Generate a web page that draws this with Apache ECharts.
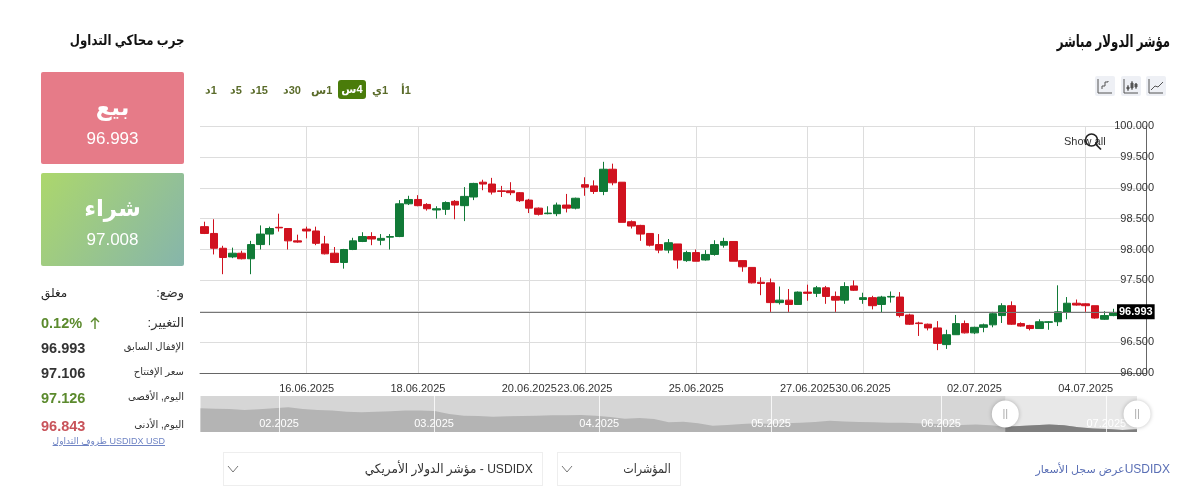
<!DOCTYPE html>
<html lang="ar">
<head>
<meta charset="utf-8">
<title>USDIDX</title>
<script src="https://cdn.jsdelivr.net/npm/echarts@6/dist/echarts.min.js"></script>
<style>
    html, body { margin: 0; padding: 0; background: #fff; }
    body { width: 1200px; height: 500px; overflow: hidden; position: relative; font-family: "Liberation Sans", "DejaVu Sans", sans-serif; color: #222; }
    #chart { position: absolute; left: 0; top: 0; width: 1200px; height: 500px; }
    .abs { position: absolute; white-space: nowrap; }
    .rtl { direction: rtl; }
    .card { position: absolute; left: 41px; width: 143px; border-radius: 2px; color: #fff; text-align: center; }
    .card .big { position: absolute; left: 0; right: 0; top: 19px; font-size: 23px; font-weight: bold; line-height: 32px; }
    .card .price { position: absolute; left: 0; right: 0; top: 57px; font-size: 17px; line-height: 20px; }
    .label { right: 1016px; font-size: 10px; line-height: 14px; direction: rtl; color: #333; }
    .val { left: 41px; font-size: 14.5px; font-weight: bold; line-height: 18px; color: #333; }
    .tf { top: 81px; font-size: 11px; font-weight: bold; line-height: 18px; color: #5a6b2a; direction: rtl; }
    .iconbtn { position: absolute; top: 76px; width: 20px; height: 20px; background: #eef0f5; border-radius: 2px; }
    .dropdown { position: absolute; top: 452px; height: 32px; border: 1px solid #eeeeee; font-size: 13px; line-height: 32px; color: #333; }
    .dropdown span { position: absolute; right: 9px; direction: rtl; white-space: nowrap; transform-origin: right center; }
    .dropdown svg { position: absolute; left: 3px; top: 12px; }
</style>
</head>
<body>
<div id="chart"></div>

<div class="abs rtl" style="right:1016px;top:31px;font-size:14px;font-weight:bold;line-height:18px;color:#111;transform:scaleX(0.84);transform-origin:right center;">جرب محاكي التداول</div>
<div class="abs rtl" style="right:30px;top:31px;font-size:17px;font-weight:bold;line-height:22px;color:#111;transform:scaleX(0.69);transform-origin:right center;">مؤشر الدولار مباشر</div>

<div class="card" style="top:72px;height:92px;background:#e67b88;">
    <div class="big">بيع</div><div class="price">96.993</div>
</div>
<div class="card" style="top:173px;height:93px;background:linear-gradient(125deg,#acd76c,#86b5ab);">
    <div class="big">شراء</div><div class="price">97.008</div>
</div>

<div class="abs label" style="top:286px;font-size:13px;">وضع:</div>
<div class="abs" style="left:41px;top:286px;font-size:12px;line-height:14px;direction:rtl;">مغلق</div>
<div class="abs label" style="top:316px;font-size:13px;">التغيير:</div>
<div class="abs val" style="top:314px;color:#5b8a2d;">0.12%</div>
<svg class="abs" style="left:89px;top:316px;" width="12" height="14" viewBox="0 0 12 14"><path d="M6 13V2M2 6l4-4 4 4" fill="none" stroke="#5b8a2d" stroke-width="1.4"/></svg>
<div class="abs label" style="top:340px;">الإقفال السابق</div>
<div class="abs val" style="top:339px;">96.993</div>
<div class="abs label" style="top:365px;">سعر الإفتتاح</div>
<div class="abs val" style="top:364px;">97.106</div>
<div class="abs label" style="top:390px;">اليوم, الأقصى</div>
<div class="abs val" style="top:389px;color:#5b8a2d;">97.126</div>
<div class="abs label" style="top:418px;">اليوم, الأدنى</div>
<div class="abs val" style="top:417px;color:#c8535a;">96.843</div>
<div class="abs" style="right:1035px;top:435px;font-size:9px;line-height:12px;color:#6f84c4;text-decoration:underline;direction:rtl;">USDIDX USD ظروف التداول</div>

<div class="abs tf" style="left:205px;">1د</div>
<div class="abs tf" style="left:230px;">5د</div>
<div class="abs tf" style="left:250px;">15د</div>
<div class="abs tf" style="left:283px;">30د</div>
<div class="abs tf" style="left:311px;">1س</div>
<div class="abs tf" style="left:338px;top:80px;width:28px;height:19px;background:#4a7c0a;border-radius:3px;color:#fff;text-align:center;line-height:19px;">4س</div>
<div class="abs tf" style="left:372px;">1ي</div>
<div class="abs tf" style="left:401px;">1أ</div>

<div class="iconbtn" style="left:1095px;"><svg width="20" height="20" viewBox="0 0 20 20" fill="none" stroke="#555" stroke-width="1"><path d="M3 3v14h14"/><path d="M7 13v-3h3V6h3v-1"/></svg></div>
<div class="iconbtn" style="left:1121px;"><svg width="20" height="20" viewBox="0 0 20 20" fill="none" stroke="#555" stroke-width="1"><path d="M3 3v14h14"/><path d="M7 9v6M11 5v9M15 7v6"/><path d="M6 11h2v2H6zM10 7h2v5h-2zM14 8h2v3h-2z" fill="#555"/></svg></div>
<div class="iconbtn" style="left:1146px;"><svg width="20" height="20" viewBox="0 0 20 20" fill="none" stroke="#555" stroke-width="1"><path d="M3 3v14h14"/><path d="M5 14l4-4 3 1 5-5"/></svg></div>

<div class="abs" style="left:1064px;top:135px;font-size:11px;line-height:13px;color:#333;">Show all</div>
<svg class="abs" style="left:1083px;top:131px;" width="20" height="20" viewBox="0 0 20 20" fill="none" stroke="#222" stroke-width="1.7"><circle cx="8.5" cy="9" r="6"/><path d="M13 13.5l5 5"/></svg>

<div class="dropdown" style="left:223px;width:318px;"><svg width="12" height="8" viewBox="0 0 12 8"><path d="M1 1l5 6 5-6" fill="none" stroke="#777"/></svg><span style="transform:scaleX(0.93);">USDIDX - مؤشر الدولار الأمريكي</span></div>
<div class="dropdown" style="left:557px;width:122px;"><svg width="12" height="8" viewBox="0 0 12 8"><path d="M1 1l5 6 5-6" fill="none" stroke="#777"/></svg><span style="transform:scaleX(0.85);">المؤشرات</span></div>
<div class="abs" style="right:30px;top:462px;font-size:11px;line-height:14px;color:#5a6fb5;direction:rtl;"><span style="font-size:12px;">USDIDX</span>عرض سجل الأسعار</div>

<script>
    const opens = [98.37,98.26,98.02,97.88,97.94,97.85,98.08,98.25,98.36,98.34,98.14,98.33,98.30,98.09,97.94,97.79,98.00,98.13,98.21,98.15,
        98.20,98.21,98.74,98.81,98.73,98.64,98.65,98.78,98.71,98.85,99.09,99.06,98.95,98.95,98.92,98.80,98.67,98.58,98.58,98.72,
        98.67,99.05,99.03,98.94,99.30,99.09,98.45,98.39,98.26,98.08,97.99,98.09,97.82,97.95,97.83,97.92,98.07,98.13,97.82,97.71,
        97.47,97.46,97.14,97.18,97.11,97.31,97.29,97.38,97.24,97.18,97.41,97.19,97.22,97.11,97.23,97.23,96.94,96.81,96.79,96.73,
        96.46,96.62,96.80,96.65,96.74,96.78,96.93,97.09,96.80,96.77,96.72,96.82,96.83,96.98,97.13,97.12,97.09,96.87,96.93];
    const closes = [98.26,98.02,97.87,97.94,97.85,98.08,98.25,98.34,98.35,98.14,98.12,98.30,98.10,97.93,97.79,98.00,98.14,98.21,98.17,98.18,
        98.21,98.74,98.81,98.71,98.66,98.66,98.76,98.72,98.86,99.07,99.06,98.93,98.94,98.92,98.79,98.67,98.57,98.59,98.72,98.67,
        98.83,99.01,98.94,99.30,99.08,98.44,98.38,98.25,98.07,97.99,98.11,97.83,97.95,97.81,97.92,98.08,98.13,97.81,97.72,97.46,
        97.45,97.14,97.18,97.11,97.31,97.29,97.38,97.24,97.18,97.40,97.34,97.22,97.09,97.23,97.24,96.93,96.79,96.80,96.73,96.48,
        96.62,96.80,96.65,96.74,96.78,96.96,97.09,96.79,96.76,96.72,96.83,96.83,96.99,97.13,97.10,97.09,96.89,96.93,96.97];
    const lows = [98.25,97.92,97.60,97.86,97.84,97.60,98.00,98.07,98.29,98.00,98.11,98.18,98.07,97.92,97.78,97.69,97.99,98.12,98.07,98.07,
        98.00,98.20,98.72,98.70,98.63,98.50,98.56,98.49,98.46,98.80,98.96,98.89,98.85,98.88,98.77,98.59,98.55,98.57,98.54,98.60,
        98.65,98.87,98.90,98.88,99.04,98.44,98.34,98.14,98.05,97.94,97.94,97.69,97.80,97.81,97.82,97.90,98.03,97.81,97.64,97.45,
        97.26,96.99,97.11,96.99,97.11,97.17,97.23,97.12,96.99,97.12,97.33,97.12,97.03,96.98,97.14,96.90,96.78,96.60,96.69,96.37,
        96.39,96.62,96.64,96.63,96.66,96.74,96.81,96.78,96.75,96.69,96.72,96.70,96.76,96.87,97.09,96.99,96.88,96.86,96.92];
    const highs = [98.45,98.49,98.06,98.03,97.98,98.14,98.39,98.37,98.58,98.34,98.24,98.37,98.37,98.22,98.04,98.01,98.19,98.28,98.28,98.25,
        98.25,98.80,98.87,98.88,98.75,98.70,98.78,98.80,99.01,99.08,99.13,99.16,99.03,99.09,98.93,98.82,98.68,98.70,98.76,98.90,
        98.84,99.17,99.12,99.42,99.39,99.09,98.47,98.40,98.26,98.25,98.17,98.09,97.98,98.00,97.99,98.15,98.19,98.13,97.82,97.71,
        97.55,97.53,97.40,97.36,97.32,97.43,97.41,97.41,97.32,97.47,97.50,97.30,97.25,97.25,97.32,97.31,96.96,96.83,96.80,96.84,
        96.70,96.94,96.85,96.75,96.80,96.99,97.13,97.16,96.82,96.78,96.87,96.84,97.42,97.23,97.19,97.13,97.09,97.00,97.04];

    const tickIndexes = [11, 23, 35, 41, 53, 65, 71, 83, 95];
    const tickDates = ["16.06.2025", "18.06.2025", "20.06.2025", "23.06.2025", "25.06.2025", "27.06.2025", "30.06.2025", "02.07.2025", "04.07.2025"];
    const emptySlots = 3;  // free bars right of the last candle

    const currentPrice = 96.993;

    // overview strip, Feb to Jul 2025
    const overviewValues = [108.5,108.3,108.1,107.6,108.0,108.5,109.0,108.1,107.6,107.3,106.7,106.4,106.7,106.9,107.3,107.4,107.1,105.5,104.6,104.4,
        104.1,104.3,104.4,104.6,104.8,104.8,105.0,104.6,103.9,103.0,103.4,102.9,101.1,101.4,100.6,99.3,99.7,100.2,100.6,100.2,
        100.6,100.9,101.3,102.0,101.6,101.3,101.1,100.9,100.9,100.6,100.4,99.9,99.7,99.9,99.5,98.8,99.2,99.5,99.9,99.5,
        98.5,97.8,97.6,97.1,97.4];
    const monthTicks = [5.37, 15.96, 27.25, 38.99, 50.61, 61.9];
    const monthLabels = ["02.2025", "03.2025", "04.2025", "05.2025", "06.2025", "07.2025"];
    const selectedFrom = 55;

    const color_up = "#117a37";
    const color_down = "#d0121f";

    const slotCount = opens.length + emptySlots;
    let categories = [];
    for (let i = 0; i < slotCount; i++) {
        let k = tickIndexes.indexOf(i);
        categories.push(k >= 0 ? tickDates[k] : "");
    }
    const isTick = (i) => tickIndexes.indexOf(i) >= 0;

    const candles = opens.map((o, i) => [o, closes[i], lows[i], highs[i]]);
    const overview = overviewValues.map((v, i) => [i, v]);
    const overviewSelected = overview.slice(selectedFrom);
    const lastX = overviewValues.length - 1;

    const chart = echarts.init(document.getElementById("chart"));
    chart.setOption({
        animation: false,
        textStyle: { fontFamily: "Liberation Sans, DejaVu Sans, sans-serif" },
        grid: [
            { left: 200, top: 126, width: 946, height: 247 },
            { left: 200.5, top: 396, width: 936.5, height: 36, show: true, backgroundColor: "#d6d6d6", borderWidth: 0 },
        ],
        xAxis: [
            {
                type: "category",
                gridIndex: 0,
                data: categories,
                boundaryGap: true,
                axisLine: { lineStyle: { color: "#666", width: 1 } },
                axisTick: { alignWithLabel: true, interval: isTick, length: 4, lineStyle: { color: "#666" } },
                splitLine: { show: true, alignWithLabel: true, interval: isTick, lineStyle: { color: "#dddddd", width: 1 } },
                axisLabel: { interval: isTick, color: "#333", fontSize: 11, margin: 10, hideOverlap: false },
            },
            {
                type: "value",
                gridIndex: 1,
                min: 0,
                max: lastX,
                z: 4,
                axisLine: { show: false },
                axisTick: { show: false, customValues: monthTicks },
                splitLine: { show: true, lineStyle: { color: "#ffffff", width: 1, opacity: 0.8 } },
                axisLabel: {
                    inside: true,
                    customValues: monthTicks,
                    margin: 3,
                    color: "#ffffff",
                    fontSize: 11,
                    formatter: (value) => monthLabels[monthTicks.indexOf(value)],
                },
            },
        ],
        yAxis: [
            {
                type: "value",
                gridIndex: 0,
                position: "right",
                min: 96,
                max: 100,
                interval: 0.5,
                axisLine: { show: true, lineStyle: { color: "#666", width: 1 } },
                axisTick: { show: false },
                splitLine: { show: true, lineStyle: { color: "#dddddd", width: 1 } },
                axisLabel: {
                    align: "right",
                    margin: 8,
                    color: "#333",
                    fontSize: 11,
                    formatter: (value) => value.toFixed(3),
                },
            },
            {
                type: "value",
                gridIndex: 1,
                min: 96,
                max: 115,
                show: false,
            },
        ],
        series: [
            {
                name: "USDIDX",
                type: "candlestick",
                xAxisIndex: 0,
                yAxisIndex: 0,
                barWidth: 8,
                data: candles,
                itemStyle: {
                    color: color_up,
                    color0: color_down,
                    borderColor: color_up,
                    borderColor0: color_down,
                    borderWidth: 1,
                },
                markLine: {
                    silent: true,
                    symbol: "none",
                    animation: false,
                    data: [{ yAxis: currentPrice }],
                    lineStyle: { color: "#777", type: "solid", width: 1 },
                    label: {
                        position: "end",
                        distance: -29,
                        formatter: currentPrice.toFixed(3),
                        backgroundColor: "#000",
                        color: "#fff",
                        fontWeight: "bold",
                        fontSize: 11,
                        padding: [2, 2, 2, 2],
                    },
                },
            },
            {
                type: "line",
                xAxisIndex: 1,
                yAxisIndex: 1,
                z: 2,
                symbol: "none",
                data: overview,
                lineStyle: { width: 0 },
                areaStyle: { color: "#b4b4b4", opacity: 1 },
                markArea: {
                    silent: true,
                    itemStyle: { color: "#e8e8e8" },
                    data: [[{ xAxis: selectedFrom }, { xAxis: lastX }]],
                },
            },
            {
                type: "line",
                xAxisIndex: 1,
                yAxisIndex: 1,
                z: 3,
                symbol: "none",
                data: overviewSelected,
                lineStyle: { width: 0 },
                areaStyle: { color: "#7f7f7f", opacity: 1 },
            },
            {
                // range handles of the overview strip
                type: "scatter",
                xAxisIndex: 1,
                yAxisIndex: 1,
                z: 5,
                clip: false,
                symbolSize: 27,
                data: [[selectedFrom, 105.5], [lastX, 105.5]],
                itemStyle: { color: "#fff", opacity: 1, shadowBlur: 4, shadowColor: "rgba(0,0,0,0.25)" },
                label: { show: true, position: "inside", formatter: "||", color: "#aaa", fontSize: 11 },
            },
        ],
    });
</script>
</body>
</html>
